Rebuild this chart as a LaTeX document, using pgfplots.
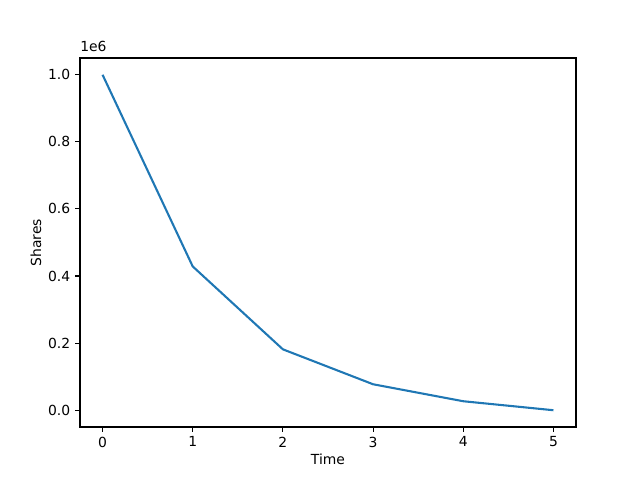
\documentclass[border=0pt]{standalone}
\usepackage{pgfplots}
\pgfplotsset{compat=1.18}
\usepackage{fontspec}
\setmainfont{DejaVu Sans}
\definecolor{tabblue}{HTML}{1F77B4}
\begin{document}
\begin{tikzpicture}
\path[use as bounding box] (0,0) rectangle (460.8pt,345.6pt);
\begin{axis}[
  at={(57.6pt,38.16pt)}, anchor=south west,
  scale only axis, width=357.1pt, height=265.7pt,
  xmin=-0.25, xmax=5.25, ymin=-50000, ymax=1050000,
  xtick={0,1,2,3,4,5},
  ytick={0,200000,400000,600000,800000,1000000},
  scaled y ticks=base 10:-6,
  ytick scale label code/.code={},
  yticklabel style={/pgf/number format/.cd,fixed,fixed zerofill,precision=1},
  /pgf/number format/assume math mode=true,
  tick align=outside, tick pos=left,
  major tick length=3.5pt,
  tick style={black, line width=0.8pt},
  axis line style={line width=0.8pt},
  font=\fontsize{10pt}{12pt}\selectfont,
  xlabel={Time}, ylabel={Shares},
  xlabel style={yshift=2pt},
  ylabel style={yshift=-2pt},
  clip=false,
]
\addplot[tabblue, line width=1.5pt] coordinates {
 (0,1000000) (1,428600) (2,181500) (3,77400) (4,26800) (5,0)
};
\node[anchor=south west, inner sep=0pt, yshift=4pt, font=\fontsize{10pt}{12pt}\selectfont] at (rel axis cs:0,1) {1e6};
\end{axis}
\end{tikzpicture}
\end{document}
